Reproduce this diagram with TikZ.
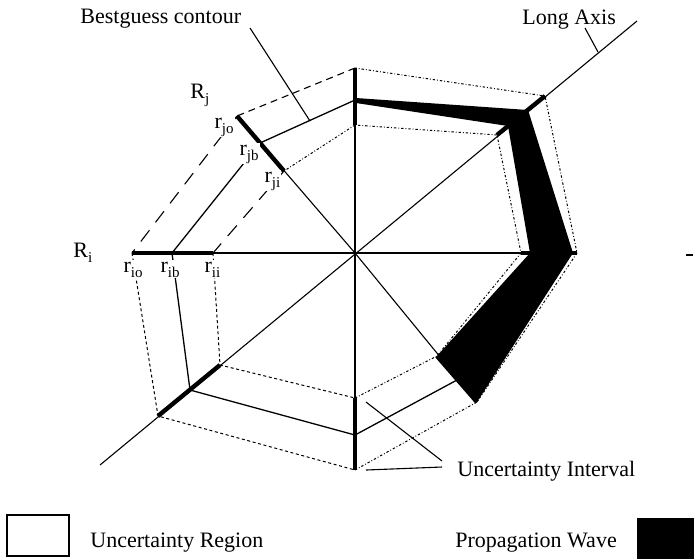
\documentclass[tikz,border=0pt]{standalone}
\usepackage{fontspec}
\setmainfont{Liberation Serif}
\newcommand\lsub[1]{\raisebox{-2.5pt}{\fontsize{7.5}{8}\selectfont #1}}
\begin{document}
\begin{tikzpicture}[x=0.5pt,y=-0.5pt,
  every node/.style={font=\fontsize{11}{13}\selectfont, inner sep=0pt},
  axisline/.style={line width=0.55pt},
  bestline/.style={line width=0.65pt},
  outerline/.style={line width=0.55pt, dash pattern=on 3.5pt off 2.5pt},
  longdash/.style={line width=0.55pt, dash pattern=on 7pt off 5pt},
  fineline/.style={line width=0.5pt, dash pattern=on 1.5pt off 1.3pt},
  dotline/.style={line width=0.5pt, dash pattern=on 1.2pt off 1pt on 0.4pt off 1pt},
  ubar/.style={line width=2.2pt},
  leader/.style={line width=0.55pt},
  rlabel/.style={fill=white, inner sep=0.6pt, anchor=base west},
  txt/.style={anchor=base west}]
\useasboundingbox (0,0) rectangle (694,559);
% centre and axis points
\coordinate (C) at (355,253);
\coordinate (To) at (355,68);
\coordinate (Tb) at (355,100);
\coordinate (Ti) at (355,125);
\coordinate (ULo) at (237,116);
\coordinate (ULb) at (260,143);
\coordinate (ULi) at (284,171);
\coordinate (Lo) at (132,253);
\coordinate (Lb) at (172,253);
\coordinate (Li) at (213,253);
\coordinate (LLo) at (158,416);
\coordinate (LLb) at (190,390);
\coordinate (LLi) at (220,365);
\coordinate (Bo) at (355,470);
\coordinate (Bb) at (355,435);
\coordinate (Bi) at (355,398);
\coordinate (LRo) at (477,402);
\coordinate (LRb) at (457,380);
\coordinate (LRi) at (437,356);
\coordinate (Ro) at (577,253);
\coordinate (Ri) at (521,253);
\coordinate (URo) at (545,96);
\coordinate (URi) at (497,135);
\coordinate (LAs) at (100,465);
\coordinate (LAe) at (637,21);
% axes
\draw[axisline] (To) -- (Bo);
\draw[axisline] (Lo) -- (Ro);
\draw[axisline] (LAs) -- (LAe);
\draw[axisline] (ULo) -- (C) -- (LRo);
% outer contour
\draw[outerline] (To) -- (ULo);
\draw[longdash] (ULo) -- (Lo);
\draw[fineline] (Lo) -- (LLo) -- (Bo);
\draw[dotline] (Bo) -- (LRo) -- (Ro) -- (URo) -- (To);
% inner contour
\draw[dotline] (Ti) -- (ULi);
\draw[longdash] (ULi) -- (Li);
\draw[fineline] (Li) -- (LLi) -- (Bi);
\draw[dotline] (Bi) -- (LRi) -- (Ri) -- (URi) -- (Ti);
% bestguess contour
\draw[bestline] (Tb) -- (ULb) -- (Lb) -- (LLb) -- (Bb) -- (LRb);
% uncertainty intervals
\draw[ubar] (To) -- (Ti);
\draw[ubar] (ULo) -- (ULi);
\draw[ubar] (Lo) -- (Li);
\draw[ubar] (LLo) -- (LLi);
\draw[ubar] (Bo) -- (Bi);
\draw[ubar] (LRo) -- (LRi);
\draw[ubar] (Ro) -- (Ri);
\draw[ubar] (URo) -- (URi);
% propagation wave
\fill[black] (356,98) -- (528,110) -- (573,253) -- (LRo) -- (LRi) -- (530,253) -- (508,126) -- (356,103) -- cycle;
% labels
\node[txt] (bg) at (80,23) {Bestguess contour};
\node[txt] (la) at (522,24) {Long Axis};
\node[txt] (ui) at (457,476) {Uncertainty Interval};
\node[txt] (ur) at (90,547) {Uncertainty Region};
\node[txt] (pw) at (455,547) {Propagation Wave};
\node[txt] (Rj) at (190,98) {R\lsub{j}};
\node[txt] (Rii) at (73,257) {R\lsub{i}};
\node[rlabel] (rjo) at (213,128) {r\lsub{jo}};
\node[rlabel] (rjb) at (238,155) {r\lsub{jb}};
\node[rlabel] (rji) at (263,182) {r\lsub{ji}};
\node[rlabel] (rio) at (122,272) {r\lsub{io}};
\node[rlabel] (rib) at (159,272) {r\lsub{ib}};
\node[rlabel] (rii) at (203,272) {r\lsub{ii}};
% leaders
\coordinate (bgA) at (250,28);
\coordinate (bgB) at (310,121);
\draw[leader] (bgA) -- (bgB);
\coordinate (laA) at (585,28);
\coordinate (laB) at (598,52);
\draw[leader] (laA) -- (laB);
\coordinate (uiA) at (442,461);
\coordinate (uiB) at (442,467);
\coordinate (uiC) at (366,402);
\coordinate (uiD) at (366,470);
\draw[leader] (uiA) -- (uiC);
\draw[leader] (uiB) -- (uiD);
\coordinate (tk1) at (686,255);
\coordinate (tk2) at (693,255);
\draw[line width=1pt] (tk1) -- (tk2);
% legend
\draw[line width=0.6pt] (7,515) rectangle (69,556);
\fill[black] (637,518) rectangle (694,559);
\end{tikzpicture}
\end{document}
